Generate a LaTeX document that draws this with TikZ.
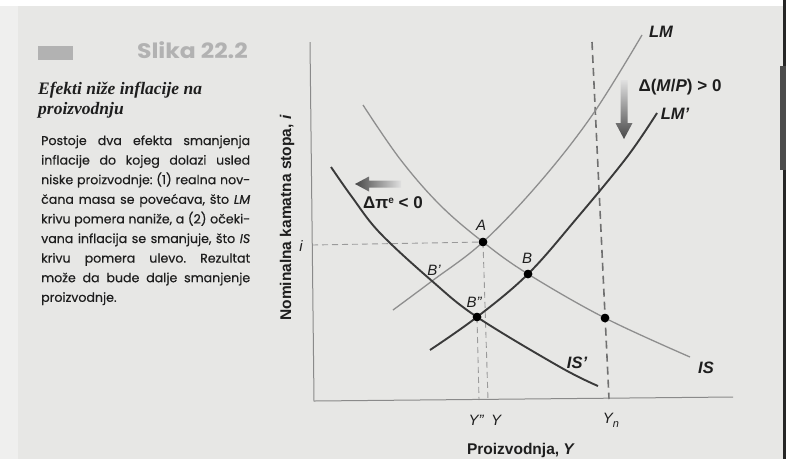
\documentclass[tikz,border=0pt]{standalone}
\usepackage{fontspec}
\setmainfont{Liberation Serif}
\setsansfont{Liberation Sans}
\newfontfamily\bodyfont[FakeBold=0.35]{Poppins}
\newfontfamily\slikafont{Poppins}
\frenchspacing
\definecolor{pagebg}{HTML}{E7E7E5}
\definecolor{curvegray}{HTML}{8E8E8E}
\definecolor{curvedk}{HTML}{3A3A3A}
\definecolor{guidegray}{HTML}{9A9A9A}
\definecolor{guidedk}{HTML}{707070}
\definecolor{axisgray}{HTML}{8A8A8A}
\definecolor{txtdark}{HTML}{1E1E1E}
\definecolor{slikagray}{HTML}{B2B2B2}
\tikzset{
  curvelight/.style={draw=curvegray, line width=1.3pt},
  curvedark/.style={draw=curvedk, line width=1.9pt},
  guide/.style={draw=guidegray, line width=0.9pt, dash pattern=on 6pt off 4pt},
  guidedark/.style={draw=guidedk, line width=1.6pt, dash pattern=on 8pt off 5pt},
  axisline/.style={draw=axisgray, line width=1pt},
  dot/.style={circle, fill=black, inner sep=0pt, minimum size=8.5pt},
  ptlbl/.style={font=\sffamily\itshape\fontsize{15}{15}\selectfont, text=txtdark, inner sep=0pt},
  curvelbl/.style={font=\sffamily\bfseries\itshape\fontsize{16.5}{16.5}\selectfont, text=txtdark, inner sep=0pt},
  shiftlbl/.style={font=\sffamily\bfseries\fontsize{17}{17}\selectfont, text=txtdark, inner sep=0pt},
  axislbl/.style={font=\sffamily\bfseries\fontsize{15.5}{15.5}\selectfont, text=txtdark, inner sep=0pt},
  bodyline/.style={anchor=base west, inner sep=0pt, font=\bodyfont\fontsize{12.6}{15}\selectfont, text=txtdark},
  titleline/.style={anchor=base west, inner sep=0pt, text=txtdark, font=\bfseries\itshape\fontsize{17.5}{17.5}\selectfont},
}
\begin{document}
\begin{tikzpicture}[x=1pt,y=-1pt]
\useasboundingbox (0,0) rectangle (786,459);
% page
\fill[pagebg] (0,0) rectangle (786,459);
\fill[white!35!pagebg] (0,0) rectangle (18,459);
\fill[white] (0,0) rectangle (786,6);
\fill[black!85] (783,0) rectangle (786,459);
\fill[black!70] (780,66) rectangle (786,170);

% ---- left column ----
\fill[slikagray] (38,46) rectangle (73,60);
\node[anchor=base east, inner sep=0pt, text=slikagray,
      font=\slikafont\bfseries\fontsize{21}{21}\selectfont] (slika) at (248,58)
      {\scalebox{1.12}[1]{Slika 22.2}};
\node[titleline] (title1) at (38,94) {Efekti niže inflacije na};
\node[titleline] (title2) at (38,114) {proizvodnju};
\node[bodyline] (l1) at (41,145) {\makebox[209pt][s]{Postoje dva efekta smanjenja}};
\node[bodyline] (l2) at (41,164.6) {\makebox[209pt][s]{inflacije do kojeg dolazi usled}};
\node[bodyline] (l3) at (41,184.2) {\makebox[209pt][s]{niske proizvodnje: (1) realna nov-}};
\node[bodyline] (l4) at (41,203.8) {\makebox[209pt][s]{čana masa se povećava, što \textit{LM}}};
\node[bodyline] (l5) at (41,223.4) {\makebox[209pt][s]{krivu pomera naniže, a (2) očeki-}};
\node[bodyline] (l6) at (41,243) {\makebox[209pt][s]{vana inflacija se smanjuje, što \textit{IS}}};
\node[bodyline] (l7) at (41,262.6) {\makebox[209pt][s]{krivu pomera ulevo. Rezultat}};
\node[bodyline] (l8) at (41,282.2) {\makebox[209pt][s]{može da bude dalje smanjenje}};
\node[bodyline] (l9) at (41,301.8) {proizvodnje.};

% ---- graph ----
\coordinate (O) at (314,401);
\coordinate (ytop) at (310,42);
\coordinate (xend) at (733,397);

% points
\node[dot] (A) at (483,242) {};
\node[dot] (B) at (528,274) {};
\node[dot] (B2) at (477,317) {};
\node[dot] (N) at (605,318) {};
\coordinate (iax) at (312,245);
\coordinate (Yax) at (488,400);
\coordinate (Y2ax) at (479,400);
\coordinate (Yntop) at (592,42);
\coordinate (Ynax) at (609,399);

% guides
\draw[guide] (iax) -- (A.center);
\draw[guide] (A.center) -- (Yax);
\draw[guide] (B2.center) -- (Y2ax);
\draw[guidedark] (Yntop) -- (Ynax);

% axes
\draw[axisline] (ytop) -- (O) -- (xend);

% curves
\draw[curvelight] plot[smooth, tension=0.6] coordinates
  {(393,310) (432,281) (483,242) (540,182) (593,114) (642,35)};
\draw[curvedark] plot[smooth, tension=0.6] coordinates
  {(430,350) (477,317) (528,274) (577,218) (627,157) (657,113)};
\draw[curvelight] plot[smooth, tension=0.6] coordinates
  {(363,105) (400,159) (440,205) (483,242) (528,274) (605,318) (690,357)};
\draw[curvedark] plot[smooth, tension=0.6] coordinates
  {(331,167) (352,197) (380,233) (432,281) (477,317) (560,367) (598,386)};

% redraw dots on top
\node[dot] at (A) {};
\node[dot] at (B) {};
\node[dot] at (B2) {};
\node[dot] at (N) {};

% shift arrows (shaded)
\shade[top color=black!12, bottom color=black!72]
  (620.5,80) -- (627.5,80) -- (627.5,123) -- (632.5,123) -- (624,139)
  -- (615.5,123) -- (620.5,123) -- cycle;
\shade[left color=black!72, right color=black!12]
  (401,180.5) -- (369,180.5) -- (369,176.5) -- (355,184) -- (369,191.5)
  -- (369,187.5) -- (401,187.5) -- cycle;

% labels
\node[curvelbl] (lmL) at (661,32) {LM};
\node[curvelbl] (lmpL) at (675,114) {LM’};
\node[curvelbl] (isL) at (706,368) {IS};
\node[curvelbl] (ispL) at (577,363) {IS’};
\node[shiftlbl] (dmp) at (680,87) {Δ(\textit{M}/\textit{P}) > 0};
\node[shiftlbl] (dpi) at (393,203) {Δπ\raisebox{5pt}{\fontsize{10}{10}\selectfont e} < 0};
\node[ptlbl] (Al) at (481,225) {A};
\node[ptlbl] (Bl) at (527,258) {B};
\node[ptlbl] (B1l) at (434,270) {B’};
\node[ptlbl] (B2l) at (474,302) {B”};
\node[ptlbl] (il) at (301,246) {i};
\node[ptlbl] (Y2l) at (476,420) {Y”};
\node[ptlbl] (Yl) at (496,420) {Y};
\node[ptlbl] (Ynl) at (611,420) {Y\raisebox{-4pt}{\fontsize{11}{11}\selectfont n}};
\node[axislbl] (xl) at (521,450) {Proizvodnja, \textit{Y}};
\node[axislbl, rotate=90] (yl) at (287,218) {Nominalna kamatna stopa, \textit{i}};
\end{tikzpicture}
\end{document}
